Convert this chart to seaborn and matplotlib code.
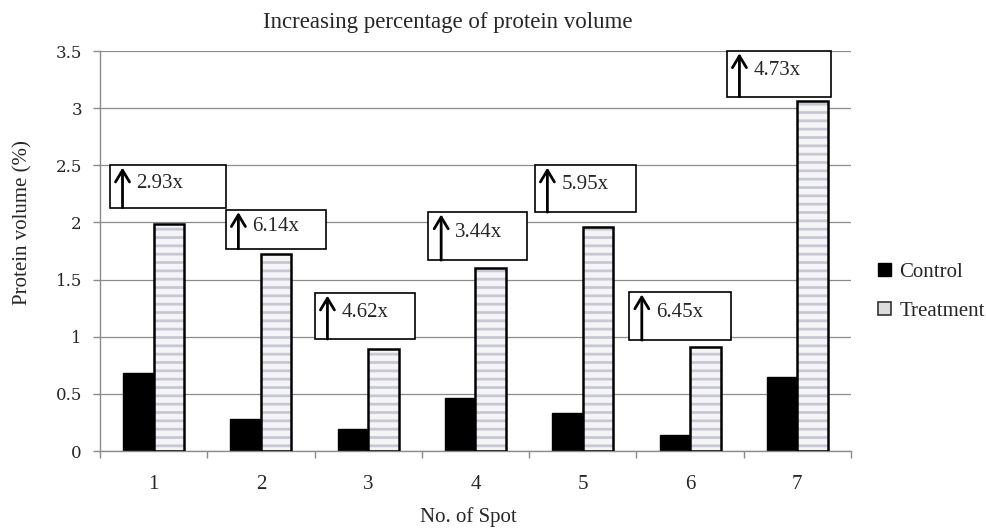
import pandas as pd
import matplotlib.pyplot as plt
import matplotlib.patches as mpatches
from matplotlib.ticker import FixedLocator
import seaborn as sns

spots = ["1", "2", "3", "4", "5", "6", "7"]
control = [0.68, 0.28, 0.19, 0.465, 0.33, 0.141, 0.647]
treatment = [1.99, 1.72, 0.89, 1.60, 1.96, 0.91, 3.06]
fold_labels = ["2.93x", "6.14x", "4.62x", "3.44x", "5.95x", "6.45x", "4.73x"]

# annotation boxes: (x0, x1, y0, y1) in data units
boxes = [(-0.41, 0.67, 2.13, 2.50), (0.67, 1.61, 1.77, 2.11),
         (1.50, 2.44, 0.98, 1.38), (2.56, 3.48, 1.67, 2.09),
         (3.55, 4.50, 2.09, 2.50), (4.43, 5.38, 0.97, 1.39),
         (5.34, 6.31, 3.10, 3.50)]

df = pd.DataFrame({
    "Spot": spots * 2,
    "Volume": control + treatment,
    "Group": ["Control"] * 7 + ["Treatment"] * 7,
})

sns.set_theme(style="white")
plt.rcParams["font.family"] = ["Liberation Serif", "DejaVu Serif"]
plt.rcParams["hatch.linewidth"] = 2.0

fig = plt.figure(figsize=(9.86, 5.28), dpi=100)
ax = fig.add_axes([0.1014, 0.1458, 0.7617, 0.7576])

sns.barplot(data=df, x="Spot", y="Volume", hue="Group", order=spots,
            hue_order=["Control", "Treatment"], width=0.57,
            palette=["black", "#f4f4f8"], legend=False, ax=ax, zorder=2)

for bar in ax.containers[0]:
    bar.set_edgecolor("black")
    bar.set_linewidth(1.0)

for bar in ax.containers[1]:
    bar.set_hatch("--")
    bar.set_edgecolor("#c8c8d4")
    bar.set_linewidth(0)
    x, y = bar.get_xy()
    ax.add_patch(mpatches.Rectangle((x, y), bar.get_width(), bar.get_height(),
                                    fill=False, edgecolor="black", lw=1.8, zorder=3))

# fold change boxes
for (x0, x1, y0, y1), lab in zip(boxes, fold_labels):
    ax.add_patch(mpatches.Rectangle((x0, y0), x1 - x0, y1 - y0, facecolor="white",
                                    edgecolor="black", lw=1.2, zorder=4, clip_on=False))
    ax.annotate("", xy=(x0 + 0.12, y1 - 0.02), xytext=(x0 + 0.12, y0),
                arrowprops=dict(arrowstyle="->,head_length=0.7,head_width=0.42",
                                color="black", lw=2.0, shrinkA=0, shrinkB=0),
                zorder=5, annotation_clip=False)
    ax.text(x0 + 0.25, y1 - 0.42 * (y1 - y0), lab, fontsize=15,
            va="center", ha="left", zorder=6)

ax.set_ylim(0, 3.5)
ax.set_xlim(-0.5, 6.5)
ax.set_yticks([0, 0.5, 1, 1.5, 2, 2.5, 3, 3.5])
ax.set_yticklabels(["0", "0.5", "1", "1.5", "2", "2.5", "3", "3.5"],
                   fontfamily="DejaVu Serif", fontsize=12)
ax.yaxis.grid(True, color="#8c8c8c", lw=0.9, zorder=0)
ax.set_axisbelow(True)

ax.xaxis.set_minor_locator(FixedLocator([i - 0.5 for i in range(8)]))
ax.tick_params(axis="x", which="major", length=0, pad=17, labelsize=15)
ax.tick_params(axis="x", which="minor", length=5, width=1, color="#8c8c8c",
               direction="out", bottom=True)
ax.tick_params(axis="y", length=5, width=1, color="#8c8c8c", direction="out",
               left=True, pad=8)

for side in ["top", "right"]:
    ax.spines[side].set_visible(False)
for side in ["left", "bottom"]:
    ax.spines[side].set_color("#8c8c8c")
    ax.spines[side].set_linewidth(1.0)

ax.set_xlabel("")
ax.set_ylabel("Protein volume (%)", fontsize=15)
ax.yaxis.set_label_coords(-0.09, 0.57)
fig.text(0.4755, 0.021, "No. of Spot", fontsize=15, ha="center", va="center")
fig.text(0.4544, 0.958, "Increasing percentage of protein volume", fontsize=16.5,
         ha="center", va="center")

handles = [mpatches.Patch(facecolor="black", edgecolor="black", label="Control"),
           mpatches.Patch(facecolor="#dcdcdc", edgecolor="#333333", lw=1.2,
                          label="Treatment")]
fig.legend(handles=handles, loc="center left", bbox_to_anchor=(0.876, 0.447),
           frameon=False, fontsize=15, handlelength=0.6, handleheight=0.6,
           handletextpad=0.4, labelspacing=0.95, borderpad=0.2)

fig.savefig("out.png", dpi=100)
